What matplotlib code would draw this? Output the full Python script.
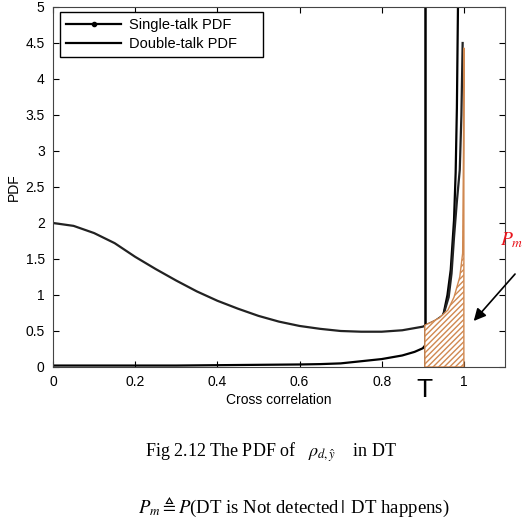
import matplotlib.pyplot as plt
import numpy as np
from matplotlib.lines import Line2D

plt.rcParams['font.family'] = ['Liberation Sans', 'DejaVu Sans']

# single-talk pdf
x_st = [0, 0.1, 0.2, 0.3, 0.4, 0.5, 0.6, 0.65, 0.7, 0.75, 0.8, 0.85, 0.88, 0.9,
        0.92, 0.94, 0.951, 0.96, 0.968, 0.976, 0.98, 0.983, 0.986]
y_st = [0.02, 0.02, 0.02, 0.02, 0.025, 0.03, 0.035, 0.04, 0.05, 0.08, 0.11, 0.16, 0.21, 0.26,
        0.4, 0.6, 0.75, 1.0, 1.35, 2.04, 2.7, 3.6, 5.2]

# double-talk pdf
x_dt = [0, 0.05, 0.1, 0.15, 0.2, 0.25, 0.3, 0.35, 0.4, 0.45, 0.5, 0.55, 0.6, 0.65, 0.7,
        0.75, 0.8, 0.85, 0.9, 0.93, 0.95, 0.963, 0.97, 0.976, 0.983, 0.99, 0.994, 0.997]
y_dt = [2.0, 1.96, 1.86, 1.72, 1.53, 1.36, 1.2, 1.05, 0.92, 0.81, 0.71, 0.63, 0.57, 0.53, 0.5,
        0.49, 0.49, 0.51, 0.56, 0.64, 0.72, 0.97, 1.3, 1.8, 2.3, 2.74, 3.5, 4.5]

# shaded miss region
T = 0.905
x_pm = [0.905, 0.92, 0.94, 0.961, 0.976, 0.99, 0.997, 0.999, 1.0]
y_pm = [0.58, 0.62, 0.68, 0.79, 0.97, 1.25, 1.58, 3.0, 4.43]

fig = plt.figure(figsize=(5.26, 5.26), dpi=100)
ax = fig.add_axes([0.1008, 0.3023, 0.8592, 0.6844])

ax.plot(x_st, y_st, color='k', lw=1.6)
ax.plot(x_dt, y_dt, color='#222222', lw=1.6)
ax.axvline(T, color='k', lw=1.8)
ax.fill_between(x_pm, 0, y_pm, facecolor='white', edgecolor='#d08850',
                hatch='//////', lw=1.0, zorder=3)

ax.set_xlim(0, 1.1)
ax.set_ylim(0, 5)
ax.set_xticks([0, 0.2, 0.4, 0.6, 0.8, 1])
ax.set_xticklabels(['0', '0.2', '0.4', '0.6', '0.8', '1'])
ax.set_yticks(np.arange(0, 5.01, 0.5))
ax.set_yticklabels(['0', '0.5', '1', '1.5', '2', '2.5', '3', '3.5', '4', '4.5', '5'])
ax.tick_params(direction='in', top=True, right=True, labelsize=10, length=4, pad=6)
for s in ax.spines.values():
    s.set_color('#444444')

ax.set_xlabel('Cross correlation', fontsize=10, labelpad=3)
ax.set_ylabel('PDF', fontsize=10, labelpad=3)

handles = [Line2D([], [], color='k', lw=1.6, marker='.', markersize=6),
           Line2D([], [], color='k', lw=1.6)]
leg = ax.legend(handles, ['Single-talk PDF', 'Double-talk PDF'], loc='upper left',
                bbox_to_anchor=(0.0155, 0.858, 0.449, 0.128), mode='expand',
                borderaxespad=0, fontsize=10.5, fancybox=False, edgecolor='k',
                framealpha=1, handlelength=3.8, handletextpad=0.5, labelspacing=0.35)
leg.get_frame().set_linewidth(1.0)

ax.text(T, -0.32, 'T', fontsize=19, ha='center', va='center')
fig.text(0.972, 0.544, r'$P_m$', color='#e8141c', fontsize=14, ha='center',
         va='center', math_fontfamily='stix')
ax.annotate('', xy=(1.0195, 0.61), xytext=(1.129, 1.32), annotation_clip=False,
            arrowprops=dict(arrowstyle='-|>', color='k', lw=1.2, mutation_scale=18))

fig.text(0.515, 0.141, r'Fig 2.12 The PDF of   $\rho_{d,\hat{y}}$    in DT', ha='center',
         va='center', fontsize=13, family='Liberation Serif', math_fontfamily='stix')
fig.text(0.559, 0.036, r'$P_m \triangleq P$(DT is Not detected$\,|\,$ DT happens)',
         ha='center', va='center', fontsize=13.5, family='Liberation Serif',
         math_fontfamily='stix')

fig.savefig('out.png', dpi=100)
